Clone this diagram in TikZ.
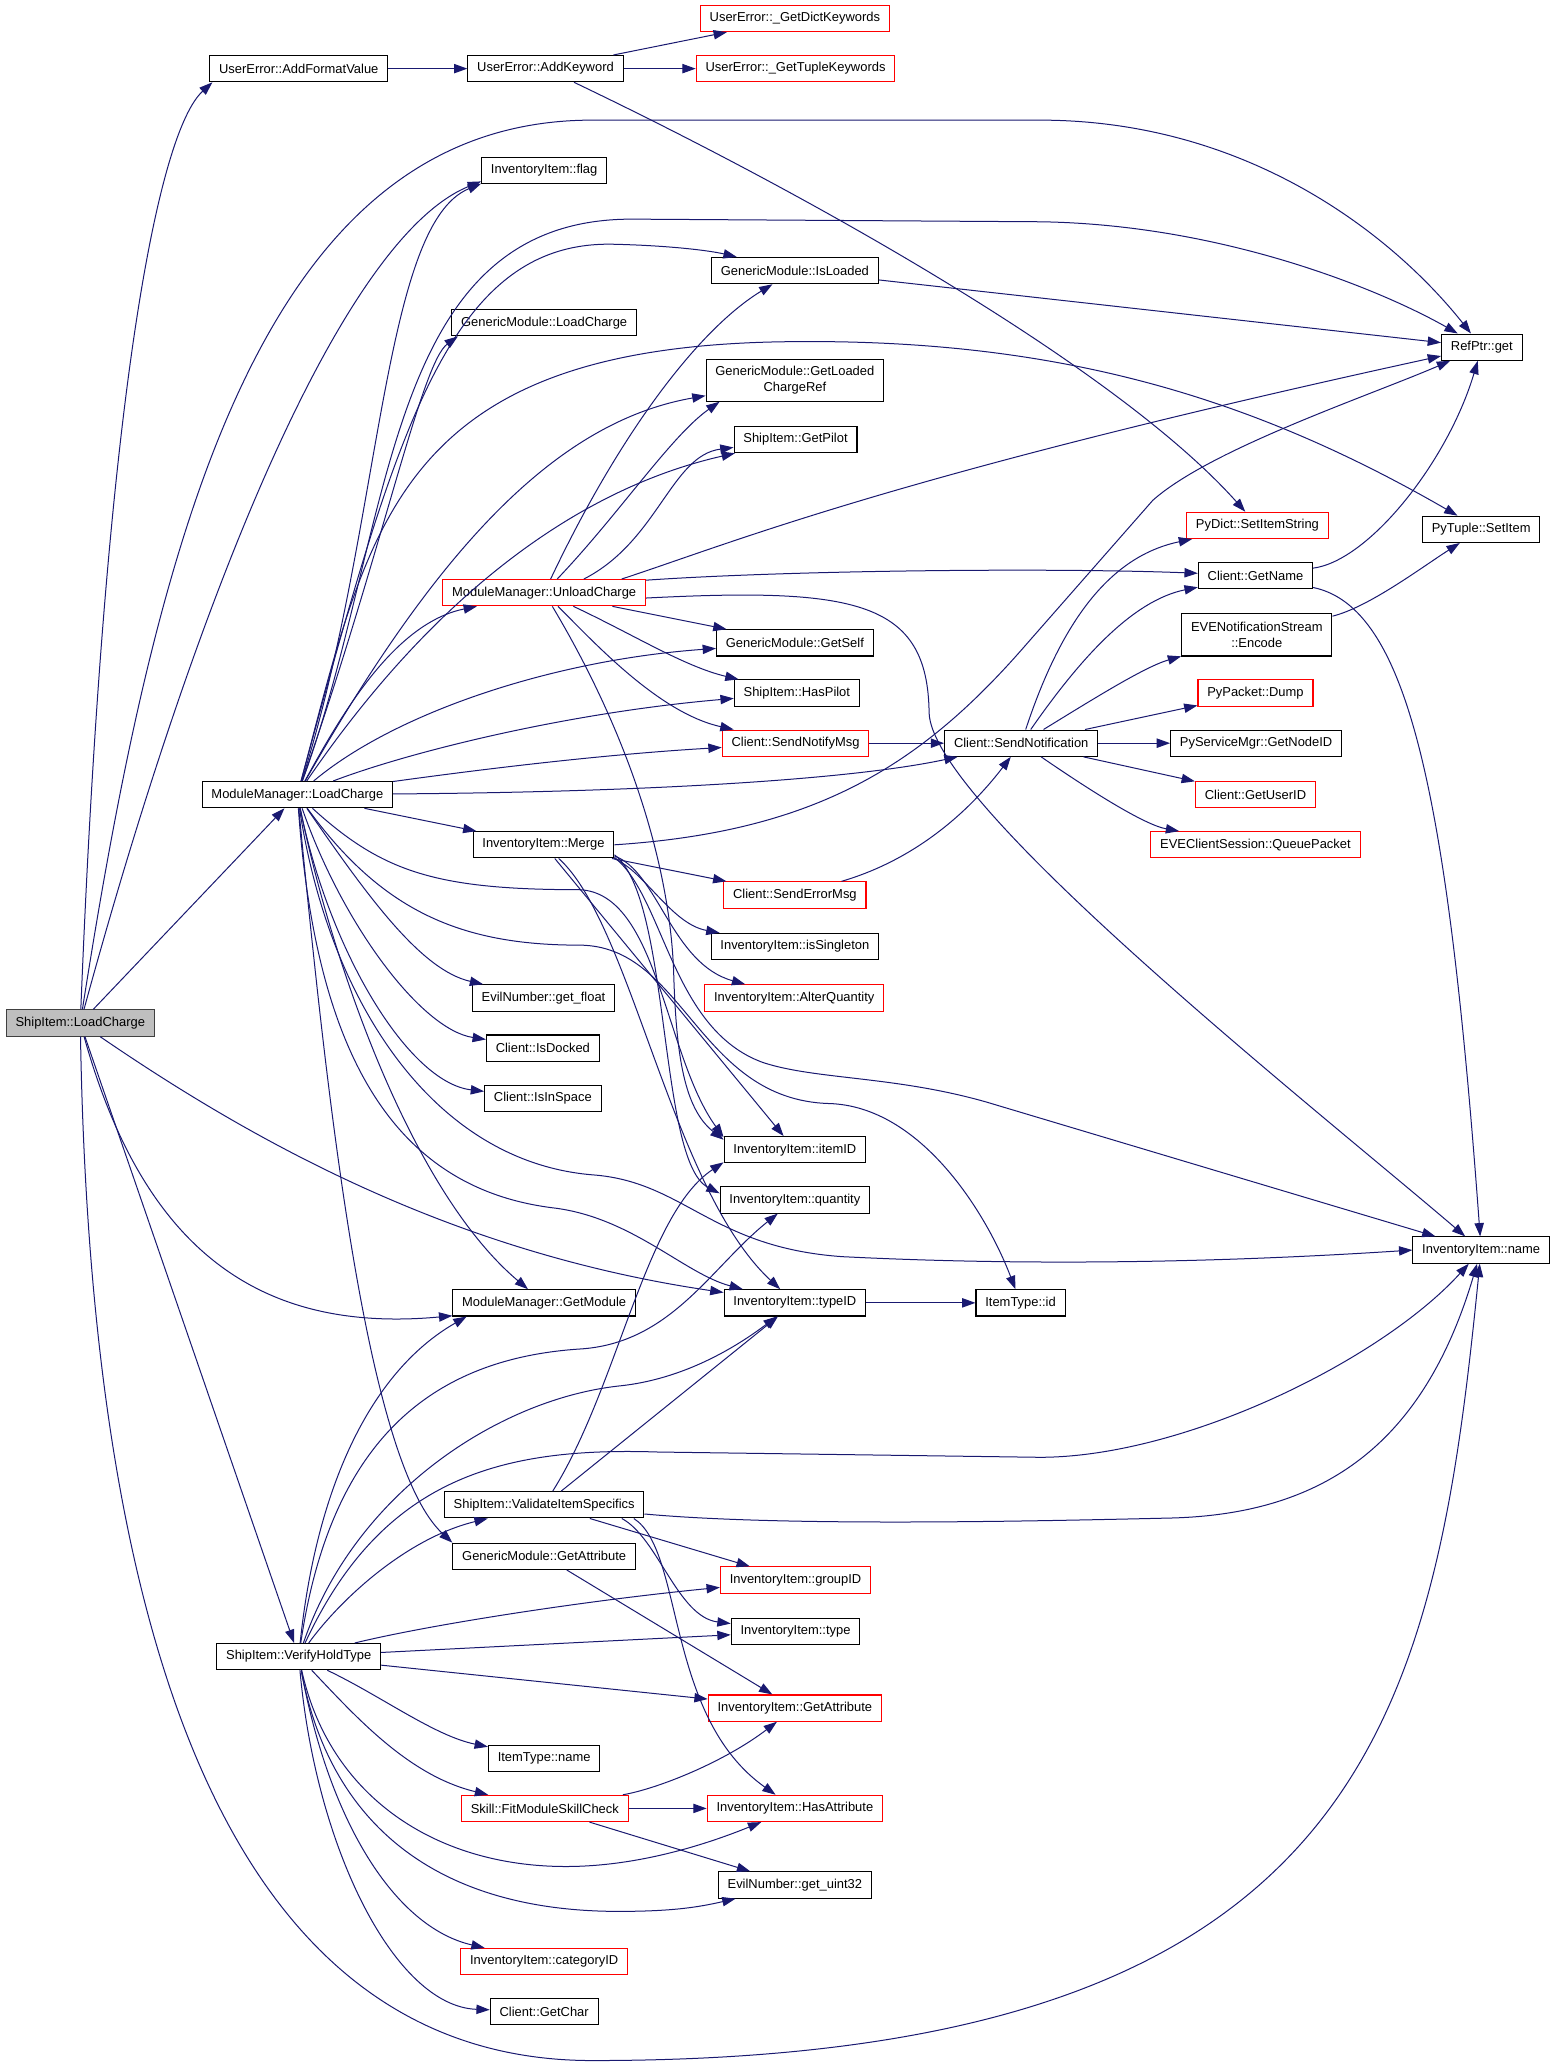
\documentclass[tikz,border=0pt]{standalone}
\usepackage{fontspec}
\setmainfont{Liberation Sans}
\usetikzlibrary{arrows.meta}

\tikzset{every picture/.style={line width=0.75pt}}
\tikzset{
  fn/.style={draw=black, line width=0.8pt, fill=white, inner xsep=7pt, inner ysep=0pt, minimum height=19.7pt, font=\fontsize{9.7}{11.6}\selectfont},
  fnred/.style={fn, draw={rgb, 255:red, 255; green, 0; blue, 0 }},
  fnroot/.style={fn, fill={rgb, 255:red, 191; green, 191; blue, 191 }, draw={rgb, 255:red, 64; green, 64; blue, 64 }},
  fntwo/.style={fn, align=center, minimum height=31.6pt},
  call/.style={draw={rgb, 255:red, 25; green, 25; blue, 112 }, line width=0.75pt, -{Triangle[length=10pt,width=7pt]}, fill=none},
}

\begin{document}
\begin{tikzpicture}[x=0.987pt,y=0.990pt,yscale=-1,xscale=1]
\path[use as bounding box, fill=white] (0,0) rectangle (1184.6,1565.9);

% Text Node
\node [fnroot] (SL) at (61,775) {ShipItem::LoadCharge};
% Text Node
\node [fn] (AFV) at (227,52) {UserError::AddFormatValue};
% Text Node
\node [fn] (AK) at (414.5,52) {UserError::AddKeyword};
% Text Node
\node [fnred] (GDK) at (604,14) {UserError::\_GetDictKeywords};
% Text Node
\node [fnred] (GTK) at (604.5,52) {UserError::\_GetTupleKeywords};
% Text Node
\node [fn] (flag) at (413.5,129) {InventoryItem::flag};
% Text Node
\node [fn] (IsLoaded) at (604,205) {GenericModule::IsLoaded};
% Text Node
\node [fn] (GMLoad) at (413.5,244.5) {GenericModule::LoadCharge};
% Text Node
\node [fntwo] (GLCR) at (604,288) {GenericModule::GetLoaded\\ChargeRef};
% Text Node
\node [fn] (GetPilot) at (604.5,333) {ShipItem::GetPilot};
% Text Node
\node [fn] (RefGet) at (1126,263) {RefPtr::get};
% Text Node
\node [fnred] (PyDictSet) at (955.5,398) {PyDict::SetItemString};
% Text Node
\node [fn] (PyTupleSet) at (1125.5,401) {PyTuple::SetItem};
% Text Node
\node [fnred] (Unload) at (413.5,449) {ModuleManager::UnloadCharge};
% Text Node
\node [fn] (GetName) at (954,436) {Client::GetName};
% Text Node
\node [fn] (GetSelf) at (604,487) {GenericModule::GetSelf};
% Text Node
\node [fntwo] (Encode) at (955,481) {EVENotificationStream\\::Encode};
% Text Node
\node [fn] (HasPilot) at (605.5,525) {ShipItem::HasPilot};
% Text Node
\node [fnred] (Dump) at (954,525) {PyPacket::Dump};
% Text Node
\node [fnred] (SendNotifyMsg) at (604.5,563) {Client::SendNotifyMsg};
% Text Node
\node [fn] (SendNotif) at (776,563) {Client::SendNotification};
% Text Node
\node [fn] (GetNodeID) at (954.5,563) {PyServiceMgr::GetNodeID};
% Text Node
\node [fn] (ML) at (226,602) {ModuleManager::LoadCharge};
% Text Node
\node [fnred] (GetUserID) at (954,602) {Client::GetUserID};
% Text Node
\node [fn] (Merge) at (413,640) {InventoryItem::Merge};
% Text Node
\node [fnred] (QueuePacket) at (954,640) {EVEClientSession::QueuePacket};
% Text Node
\node [fnred] (SendErrorMsg) at (604,678) {Client::SendErrorMsg};
% Text Node
\node [fn] (isSingleton) at (604,717) {InventoryItem::isSingleton};
% Text Node
\node [fn] (getFloat) at (413,756) {EvilNumber::get\_float};
% Text Node
\node [fnred] (AlterQty) at (603.5,756) {InventoryItem::AlterQuantity};
% Text Node
\node [fn] (IsDocked) at (412.5,794) {Client::IsDocked};
% Text Node
\node [fn] (IsInSpace) at (412.5,832) {Client::IsInSpace};
% Text Node
\node [fn] (itemID) at (604,871) {InventoryItem::itemID};
% Text Node
\node [fn] (quantity) at (604,909) {InventoryItem::quantity};
% Text Node
\node [fn] (InvName) at (1125.5,947) {InventoryItem::name};
% Text Node
\node [fn] (GetModule) at (413.5,987) {ModuleManager::GetModule};
% Text Node
\node [fn] (typeID) at (604,987) {InventoryItem::typeID};
% Text Node
\node [fn] (TypeId) at (775.5,987) {ItemType::id};
% Text Node
\node [fn] (Validate) at (413.5,1140) {ShipItem::ValidateItemSpecifics};
% Text Node
\node [fn] (GMGetAttr) at (413.5,1179) {GenericModule::GetAttribute};
% Text Node
\node [fnred] (groupID) at (604.5,1197) {InventoryItem::groupID};
% Text Node
\node [fn] (invType) at (604.5,1236) {InventoryItem::type};
% Text Node
\node [fn] (Verify) at (227,1255) {ShipItem::VerifyHoldType};
% Text Node
\node [fnred] (IIGetAttr) at (604,1294) {InventoryItem::GetAttribute};
% Text Node
\node [fn] (TypeName) at (413.5,1332) {ItemType::name};
% Text Node
\node [fnred] (FitSkill) at (414,1370) {Skill::FitModuleSkillCheck};
% Text Node
\node [fnred] (HasAttr) at (604,1370) {InventoryItem::HasAttribute};
% Text Node
\node [fn] (getUint) at (604,1428) {EvilNumber::get\_uint32};
% Text Node
\node [fnred] (categoryID) at (413.5,1486) {InventoryItem::categoryID};
% Text Node
\node [fn] (GetChar) at (413.5,1524) {Client::GetChar};

%Curve Lines
\draw [call] (SL) .. controls (80,300) and (120,100) .. (AFV.-171);
%Curve Lines
\draw [call] (SL) .. controls (120,400) and (200,91) .. (450,91) -- (790,91) .. controls (950,91) and (1060,180) .. (RefGet);
%Curve Lines
\draw [call] (SL) .. controls (150,450) and (260,180) .. (flag.-170);
%Straight Lines
\draw [call] (SL) -- (ML);
%Curve Lines
\draw [call] (SL) .. controls (110,950) and (200,1010) .. (GetModule.-172);
%Curve Lines
\draw [call] (SL) .. controls (200,870) and (350,950) .. (typeID);
%Straight Lines
\draw [call] (SL) -- (Verify);
%Curve Lines
\draw [call] (SL) .. controls (70,1300) and (200,1561) .. (450,1561) .. controls (1040,1561) and (1090,1300) .. (InvName);

%Straight Lines
\draw [call] (AFV) -- (AK);
%Straight Lines
\draw [call] (AK) -- (GDK);
%Straight Lines
\draw [call] (AK) -- (GTK);
%Curve Lines
\draw [call] (AK) .. controls (620,150) and (850,280) .. (PyDictSet);

%Curve Lines
\draw [call] (ML) .. controls (290,400) and (290,170) .. (flag.-168);
%Curve Lines
\draw [call] (ML) .. controls (300,400) and (290,166) .. (480,166) -- (790,168) .. controls (930,170) and (1050,220) .. (RefGet);
%Curve Lines
\draw [call] (ML) .. controls (300,330) and (340,183) .. (465,185) .. controls (510,186) and (540,190) .. (IsLoaded);
%Curve Lines
\draw [call] (ML) .. controls (290,420) and (320,275) .. (GMLoad.-171);
%Curve Lines
\draw [call] (ML) .. controls (280,400) and (300,265) .. (590,259) .. controls (800,255) and (950,300) .. (PyTupleSet);
%Curve Lines
\draw [call] (ML) .. controls (330,420) and (420,320) .. (GLCR);
%Curve Lines
\draw [call] (ML) .. controls (330,450) and (440,370) .. (GetPilot);
%Curve Lines
\draw [call] (ML) .. controls (260,540) and (300,472) .. (Unload);
%Curve Lines
\draw [call] (ML) .. controls (300,540) and (420,500) .. (GetSelf);
%Curve Lines
\draw [call] (ML) .. controls (310,570) and (430,540) .. (HasPilot);
%Curve Lines
\draw [call] (ML) .. controls (350,585) and (450,572) .. (SendNotifyMsg);
%Curve Lines
\draw [call] (ML) .. controls (500,600) and (650,590) .. (SendNotif);
%Straight Lines
\draw [call] (ML) -- (Merge);
%Curve Lines
\draw [call] (ML) .. controls (280,680) and (320,735) .. (getFloat);
%Curve Lines
\draw [call] (ML) .. controls (260,700) and (320,780) .. (IsDocked);
%Curve Lines
\draw [call] (ML) .. controls (250,720) and (310,820) .. (IsInSpace);
%Curve Lines
\draw [call] (ML) .. controls (250,720) and (310,900) .. (GetModule);
%Curve Lines
\draw [call] (ML) .. controls (250,850) and (280,1110) .. (GMGetAttr.north west);
%Curve Lines
\draw [call] (ML) .. controls (290,660) and (330,674) .. (440,674) .. controls (500,676) and (505,800) .. (itemID.170);
%Curve Lines
\draw [call] (ML) .. controls (290,690) and (350,716) .. (440,716) .. controls (520,716) and (530,833) .. (630,836) .. controls (700,838) and (750,920) .. (TypeId);
%Curve Lines
\draw [call] (ML) .. controls (250,760) and (330,880) .. (450,890) .. controls (520,895) and (540,945) .. (640,952) .. controls (800,960) and (950,955) .. (InvName.west);
%Curve Lines
\draw [call] (ML) .. controls (240,800) and (300,900) .. (420,915) .. controls (480,922) and (520,965) .. (typeID);

%Curve Lines
\draw [call] (Unload) .. controls (470,330) and (530,250) .. (IsLoaded);
%Curve Lines
\draw [call] (Unload) .. controls (470,390) and (510,330) .. (GLCR.-164);
%Curve Lines
\draw [call] (Unload.19) .. controls (500,410) and (510,345) .. (GetPilot);
%Curve Lines
\draw [call] (Unload.10) .. controls (560,410) and (680,360) .. (RefGet);
%Curve Lines
\draw [call] (Unload.7) .. controls (600,432) and (800,430) .. (GetName);
%Curve Lines
\draw [call] (Unload.-3) .. controls (650,445) and (705,455) .. (706,540) .. controls (708,610) and (1000,840) .. (InvName);
%Straight Lines
\draw [call] (Unload) -- (GetSelf);
%Curve Lines
\draw [call] (Unload) .. controls (480,480) and (520,505) .. (HasPilot);
%Curve Lines
\draw [call] (Unload) .. controls (450,485) and (500,540) .. (SendNotifyMsg);
%Curve Lines
\draw [call] (Unload) .. controls (480,560) and (510,660) .. (512,740) .. controls (514,800) and (520,840) .. (itemID.172);

%Curve Lines
\draw [call] (Merge.east) .. controls (620,630) and (700,580) .. (780,488) -- (876,379) .. controls (920,340) and (1040,300) .. (RefGet);
%Straight Lines
\draw [call] (Merge) -- (SendErrorMsg);
%Curve Lines
\draw [call] (Merge.-11) .. controls (490,660) and (510,700) .. (isSingleton);
%Curve Lines
\draw [call] (Merge.-9) .. controls (500,660) and (510,730) .. (AlterQty);
%Straight Lines
\draw [call] (Merge) -- (itemID);
%Curve Lines
\draw [call] (Merge.-8) .. controls (510,680) and (500,880) .. (quantity.175);
%Curve Lines
\draw [call] (Merge) .. controls (480,700) and (510,900) .. (typeID);
%Curve Lines
\draw [call] (Merge.-10) .. controls (505,680) and (510,780) .. (580,805) .. controls (620,818) and (680,815) .. (750,835) -- (InvName);

%Straight Lines
\draw [call] (SendNotifyMsg) -- (SendNotif);
%Curve Lines
\draw [call] (SendErrorMsg) .. controls (700,650) and (740,610) .. (SendNotif);
%Curve Lines
\draw [call] (SendNotif) .. controls (810,460) and (850,420) .. (PyDictSet);
%Curve Lines
\draw [call] (SendNotif) .. controls (820,500) and (860,455) .. (GetName);
%Curve Lines
\draw [call] (SendNotif) .. controls (830,530) and (870,505) .. (Encode);
%Straight Lines
\draw [call] (SendNotif) -- (Dump);
%Straight Lines
\draw [call] (SendNotif) -- (GetNodeID);
%Straight Lines
\draw [call] (SendNotif) -- (GetUserID);
%Curve Lines
\draw [call] (SendNotif) .. controls (830,600) and (870,625) .. (QueuePacket);
%Curve Lines
\draw [call] (GetName) .. controls (1040,425) and (1100,350) .. (RefGet);
%Curve Lines
\draw [call] (GetName) .. controls (1070,460) and (1100,600) .. (InvName);
%Curve Lines
\draw [call] (Encode) .. controls (1040,460) and (1080,430) .. (PyTupleSet);
%Straight Lines
\draw [call] (IsLoaded) -- (RefGet);
%Straight Lines
\draw [call] (typeID) -- (TypeId);

%Curve Lines
\draw [call] (Verify) .. controls (240,1130) and (280,1040) .. (GetModule.-170);
%Curve Lines
\draw [call] (Verify) .. controls (250,1100) and (320,1030) .. (440,1022) .. controls (510,1018) and (540,960) .. (quantity);
%Curve Lines
\draw [call] (Verify) .. controls (270,1130) and (380,1060) .. (470,1050) .. controls (520,1045) and (560,1020) .. (typeID);
%Curve Lines
\draw [call] (Verify) .. controls (290,1120) and (380,1096) .. (500,1100) -- (790,1104) .. controls (900,1104) and (1050,1030) .. (InvName);
%Curve Lines
\draw [call] (Verify) .. controls (260,1210) and (310,1165) .. (Validate);
%Curve Lines
\draw [call] (Verify) .. controls (330,1230) and (450,1212) .. (groupID);
%Straight Lines
\draw [call] (Verify) -- (invType);
%Straight Lines
\draw [call] (Verify) -- (IIGetAttr);
%Curve Lines
\draw [call] (Verify) .. controls (290,1285) and (330,1315) .. (TypeName);
%Curve Lines
\draw [call] (Verify) .. controls (270,1300) and (310,1345) .. (FitSkill);
%Curve Lines
\draw [call] (Verify) .. controls (250,1360) and (330,1414) .. (430,1414) .. controls (480,1414) and (530,1400) .. (HasAttr);
%Curve Lines
\draw [call] (Verify) .. controls (250,1380) and (330,1448) .. (470,1448) .. controls (510,1448) and (530,1445) .. (getUint);
%Curve Lines
\draw [call] (Verify) .. controls (250,1380) and (300,1460) .. (categoryID);
%Curve Lines
\draw [call] (Verify) .. controls (240,1400) and (300,1520) .. (GetChar);

%Curve Lines
\draw [call] (Validate) .. controls (470,1050) and (490,920) .. (itemID.-170);
%Straight Lines
\draw [call] (Validate) -- (typeID);
%Curve Lines
\draw [call] (Validate) .. controls (600,1157) and (800,1152) .. (890,1150) .. controls (1000,1147) and (1080,1100) .. (InvName);
%Straight Lines
\draw [call] (Validate) -- (groupID);
%Curve Lines
\draw [call] ([xshift=-17pt]Validate.south east) .. controls (500,1165) and (515,1225) .. (invType);
%Curve Lines
\draw [call] ([xshift=-8pt]Validate.south east) .. controls (520,1175) and (505,1300) .. (HasAttr);

%Straight Lines
\draw [call] (GMGetAttr) -- (IIGetAttr);
%Curve Lines
\draw [call] (FitSkill) .. controls (500,1355) and (550,1335) .. (IIGetAttr);
%Straight Lines
\draw [call] (FitSkill) -- (HasAttr);
%Straight Lines
\draw [call] (FitSkill) -- (getUint);

\end{tikzpicture}
\end{document}
